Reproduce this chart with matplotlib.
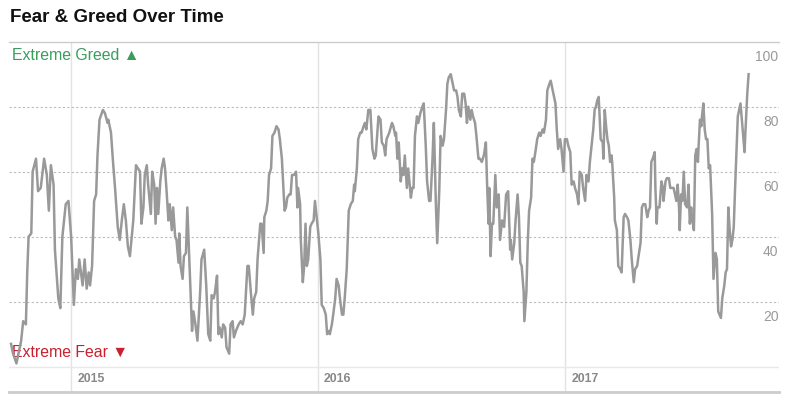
import numpy as np
import pandas as pd
import matplotlib
matplotlib.use('Agg')
import matplotlib.pyplot as plt
import matplotlib.transforms as mtransforms

# =============================================================================
# ================================== DATA =====================================
# =============================================================================
start_date = '2014-10-04'

days = [
    0, 3, 8, 12, 15, 18, 22, 24, 26, 30,
    32, 37, 40, 44, 49, 53, 56, 59, 63, 65,
    70, 73, 76, 81, 85, 89, 93, 96, 99, 101,
    106, 109, 112, 115, 117, 120, 123, 126, 128, 131,
    136, 139, 143, 144, 148, 151, 154, 158, 161, 164,
    167, 170, 173, 176,
    181, 185, 188, 191, 193, 196, 198, 201, 203, 207,
    209, 212, 214, 216, 218, 221, 223, 226, 228, 230,
    233, 235, 238, 240, 243, 245, 248, 249, 251, 254,
    256, 259, 261, 264, 268, 270, 273, 276, 280, 282,
    286, 289, 292, 295, 297, 300, 302, 305, 307, 309,
    312, 314, 317, 319, 323, 325, 328, 330, 333, 337,
    340, 343, 346, 350, 352, 355, 358, 360, 363, 365,
    369,
    371, 374, 375, 378, 380, 382, 385, 387, 390, 393,
    396, 398, 401, 403, 405, 407, 409, 412, 414, 416,
    419, 422, 424, 425, 428, 429, 432, 434, 436, 438,
    440, 443, 445, 448, 450, 453, 455, 458, 460, 463,
    466, 468, 471, 472, 475, 477, 480, 482, 485, 487,
    490, 492, 494, 497, 500, 503, 506, 508, 509, 512,
    514, 517, 519, 522, 524, 526, 529, 532, 535, 538,
    540, 544, 547,
    549, 552, 554, 556, 560, 564, 566, 569, 570, 572,
    574, 577, 579, 581, 583, 586, 588, 591, 592, 594,
    596, 598, 601, 603, 606, 609, 611, 614, 616, 619,
    621, 624, 626, 629, 631, 634, 636, 639, 641, 644,
    646, 648, 651, 653, 656, 659, 661, 663, 666, 668,
    671, 673, 675, 677, 680, 682, 684, 687, 689, 692,
    694, 697, 700, 703, 705, 707, 708, 710, 712, 714,
    717, 719, 722, 724, 727, 730, 733, 736, 739,
    740, 742, 745, 747, 750, 752, 754, 756, 759, 760,
    763, 765, 767, 770, 772, 774, 777, 779, 782, 784,
    787, 789, 792, 794, 797, 799, 801, 804, 806, 808,
    810, 813, 815, 818, 820, 823, 825, 828, 830, 833,
    835, 838, 840, 842, 845, 847, 850, 852, 855, 857,
    860, 862, 864, 866, 868, 870, 871, 873, 876, 877,
    879, 881, 883, 885, 887, 889, 890, 893, 894, 897,
    899, 902, 904, 907, 909, 912, 914, 917, 919, 922,
    924, 927, 929, 932, 934, 936, 939, 942, 944, 946,
    948, 950, 953, 954, 956, 957, 960, 963, 965, 966,
    969, 971, 974, 976, 979, 981, 983, 985, 987, 989,
    990, 992, 994, 996, 998, 1001, 1003, 1005, 1007, 1008,
    1011, 1013, 1015, 1017, 1018, 1020, 1022, 1023, 1025, 1027,
    1029, 1031, 1033, 1035, 1038, 1040, 1043, 1045, 1047, 1049,
    1051, 1053, 1056, 1058, 1060, 1062, 1064, 1066, 1068, 1070,
    1072, 1074, 1076, 1078, 1080, 1082, 1084, 1086, 1087, 1090,
    1092,
]

fear_greed = [
    7, 4, 1, 5, 8, 14, 13, 29, 40, 41,
    60, 64, 54, 55, 64, 59, 48, 62, 56, 36,
    21, 18, 40, 50, 51, 40, 19, 30, 27, 33,
    25, 33, 24, 29, 25, 31, 51, 53, 65, 76,
    79, 78, 75, 76, 72, 63, 55, 43, 39, 45,
    50, 45, 37, 34,
    45, 62, 61, 60, 44, 49, 59, 62, 56, 47,
    60, 56, 44, 55, 47, 57, 61, 64, 61, 55,
    45, 50, 42, 49, 40, 39, 32, 41, 31, 27,
    34, 35, 49, 33, 11, 17, 13, 8, 23, 33,
    36, 25, 10, 8, 22, 21, 23, 28, 10, 12,
    9, 13, 12, 6, 4, 13, 14, 9, 11, 13,
    14, 13, 16, 31, 31, 23, 16, 21, 23, 33,
    44,
    44, 35, 46, 48, 51, 59, 61, 71, 72, 74,
    73, 70, 64, 56, 48, 49, 52, 53, 53, 59,
    59, 60, 49, 55, 50, 39, 26, 31, 44, 31,
    33, 43, 44, 45, 51, 45, 41, 33, 19, 18,
    16, 10, 11, 10, 13, 16, 21, 27, 25, 21,
    16, 16, 21, 30, 48, 50, 51, 56, 54, 61,
    70, 72, 72, 74, 75, 73, 79, 79, 67, 64,
    65, 77, 76,
    69, 68, 65, 70, 72, 75, 74, 71, 72, 64,
    69, 57, 61, 59, 65, 55, 61, 54, 52, 55,
    55, 71, 77, 75, 78, 80, 81, 68, 57, 51,
    51, 64, 75, 50, 38, 54, 71, 68, 70, 79,
    87, 89, 90, 88, 85, 85, 83, 79, 77, 84,
    84, 81, 75, 80, 76, 79, 77, 75, 71, 64,
    64, 63, 65, 69, 55, 44, 55, 34, 44, 44,
    59, 49, 53, 39, 45, 43, 53, 54, 36,
    39, 33, 38, 45, 53, 46, 32, 31, 23, 14,
    23, 38, 48, 52, 64, 63, 67, 70, 72, 71,
    73, 72, 76, 85, 87, 88, 86, 83, 81, 73,
    67, 70, 67, 60, 70, 70, 68, 66, 56, 57,
    55, 53, 50, 60, 59, 55, 51, 59, 57, 63,
    69, 73, 79, 80, 82, 83, 79, 70, 69, 64,
    79, 74, 70, 68, 63, 65, 63, 52, 45, 42,
    31, 30, 29, 46, 47, 46, 45, 39, 33, 26,
    30, 31, 34, 38, 49, 50, 50, 46, 48, 49,
    63, 64, 66, 55, 44, 49, 49, 57, 55, 51,
    57, 58, 58, 55, 55, 55, 53, 51, 56, 49,
    42, 53, 51, 60, 50, 49, 56, 44, 49, 46,
    42, 65, 67, 63, 68, 76, 74, 77, 81, 73,
    70, 70, 61, 62, 47, 27, 35, 33, 17, 16,
    15, 21, 25, 29, 30, 49, 42, 37, 39, 43,
    55, 66, 77, 79, 81, 76, 71, 66, 71, 84,
    90,
]

year_labels = ['2015', '2016', '2017']
y_ticks = [20, 40, 60, 80, 100]
# -----------------------------------------------------------------------------

dates = pd.to_datetime(start_date) + pd.to_timedelta(days, unit='D')

plt.rcParams['font.family'] = ['Liberation Sans', 'DejaVu Sans']

fig = plt.figure(figsize=(7.92, 4.07), dpi=100)
ax = fig.add_axes([9 / 792, 15 / 407, 770 / 792, 350.3 / 407])

x_left = pd.to_datetime(start_date) - pd.Timedelta(days=3)
x_right = pd.to_datetime(start_date) + pd.Timedelta(days=1137)
ax.set_xlim(x_left, x_right)
ax.set_ylim(-7.8, 100)
ax.set_xticks([])
ax.set_yticks([])

for side in ['left', 'right']:
    ax.spines[side].set_visible(False)
ax.spines['top'].set_color('#cccccc')
ax.spines['top'].set_linewidth(1.0)
ax.spines['bottom'].set_color('#cccccc')
ax.spines['bottom'].set_linewidth(2.0)

# dotted guides + labels on the right
right_edge = mtransforms.blended_transform_factory(ax.transAxes, ax.transData)
for v in y_ticks:
    if v < 100:
        ax.axhline(v, color='#bbbbbb', lw=0.8, ls=(0, (2, 2)), zorder=1)
    ax.text(0.9995, v - 4.8, str(v), transform=right_edge, ha='right',
            va='center', fontsize=10, color='#999999')
ax.axhline(0, color='#e8e8e8', lw=1.0, zorder=1)

# year separators
for label in year_labels:
    d = pd.Timestamp(label + '-01-01')
    ax.axvline(d, color='#e3e3e3', lw=1.0, zorder=0)
    ax.annotate(label, xy=(d, -3.9), xytext=(4.5, 0), textcoords='offset points',
                ha='left', va='center', fontsize=8.8, fontweight='bold',
                color='#888888')

ax.text(0.004, 95.9, 'Extreme Greed \u25B2', transform=right_edge, ha='left',
        va='center', fontsize=11.4, color='#3a9d5d', zorder=2)
ax.text(0.004, 4.5, 'Extreme Fear \u25BC', transform=right_edge, ha='left',
        va='center', fontsize=11.4, color='#c8202f', zorder=2)

ax.plot(dates, fear_greed, color='#999999', lw=1.8, zorder=3,
        solid_joinstyle='round')

fig.text(10 / 792, 1 - 17 / 407, 'Fear & Greed Over Time', ha='left',
         va='center', fontsize=13.5, fontweight='bold', color='#111111')

fig.savefig('out.png', dpi=100)
